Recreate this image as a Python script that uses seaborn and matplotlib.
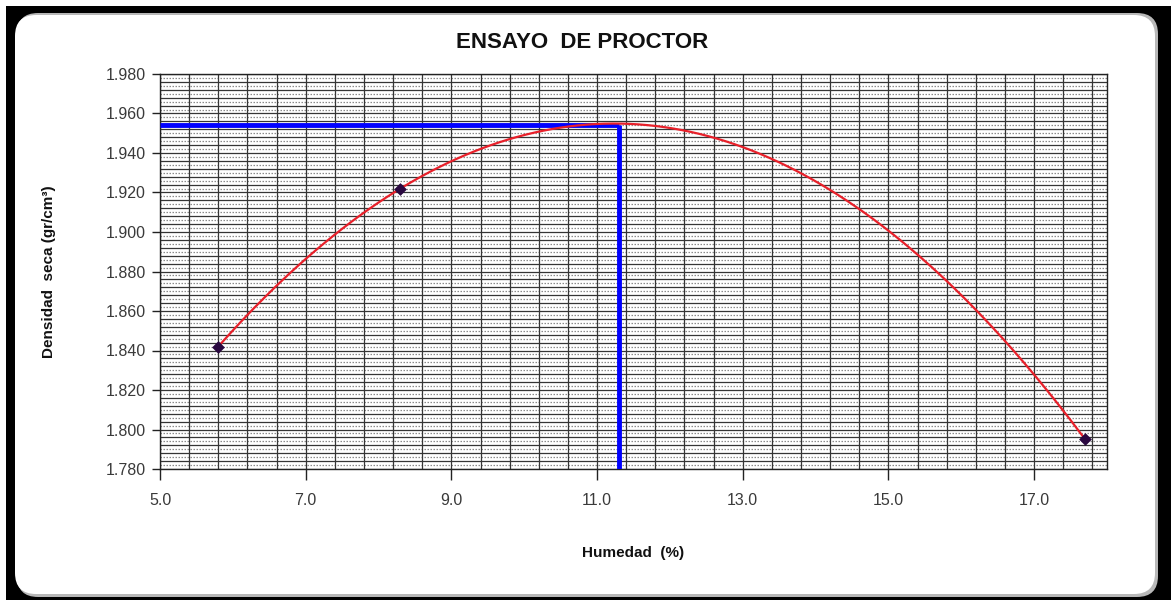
import numpy as np
import pandas as pd
import matplotlib
matplotlib.use("Agg")
import matplotlib.pyplot as plt
from matplotlib.patches import FancyBboxPatch, Rectangle
from matplotlib.ticker import FixedLocator, FormatStrFormatter
import seaborn as sns

# Ensayo de compactación Proctor: humedad (%) vs densidad seca (gr/cm3)
humedad = [5.8, 8.3, 17.7]
densidad_seca = [1.842, 1.922, 1.795]

# Humedad óptima y densidad seca máxima
humedad_optima = 11.3
densidad_maxima = 1.954

titulo = "ENSAYO  DE PROCTOR"
etiqueta_x = "Humedad  (%)"
etiqueta_y = "Densidad  seca (gr/cm³)"

sns.set_theme(style="white")
plt.rcParams["font.family"] = ["Liberation Sans", "DejaVu Sans"]

W, H = 1171, 600
fig = plt.figure(figsize=(W / 100, H / 100), dpi=100)
fig.patch.set_facecolor("white")

# Marco negro y panel blanco con esquinas redondeadas
fig.patches.append(Rectangle((6 / W, 0), 1 - 6 / W, 1 - 6 / H,
                             transform=fig.transFigure, facecolor="black",
                             edgecolor="none", zorder=-10))
fig.patches.append(FancyBboxPatch((17 / W, 3 / H), (1158 - 17) / W, (585 - 1) / H,
                                  boxstyle="round,pad=0,rounding_size=0.018",
                                  transform=fig.transFigure, facecolor="#b8b8b8",
                                  edgecolor="none", zorder=-9,
                                  mutation_aspect=W / H))
fig.patches.append(FancyBboxPatch((15 / W, 6 / H), (1155 - 15) / W, (585 - 6) / H,
                                  boxstyle="round,pad=0,rounding_size=0.018",
                                  transform=fig.transFigure, facecolor="white",
                                  edgecolor="none", zorder=-8,
                                  mutation_aspect=W / H))

ax = fig.add_axes([160 / W, 1 - 469 / H, (1107 - 160) / W, (469 - 74) / H])
ax.set_facecolor("white")

# Curva de ajuste cuadrática
coef = np.polyfit(humedad, densidad_seca, 2)
xs = np.linspace(min(humedad), max(humedad), 300)
curva = pd.DataFrame({"x": xs, "y": np.polyval(coef, xs)})
puntos = pd.DataFrame({"x": humedad, "y": densidad_seca})

xmin, xmax = 5.0, 18.0
ymin, ymax = 1.780, 1.980

# Líneas de humedad óptima y densidad máxima
ax.plot([xmin, humedad_optima], [densidad_maxima, densidad_maxima],
        color="#0000ff", lw=3.5, solid_capstyle="butt", zorder=4)
ax.plot([humedad_optima, humedad_optima], [ymin, densidad_maxima],
        color="#0000ff", lw=3.5, solid_capstyle="butt", zorder=4)

sns.lineplot(data=curva, x="x", y="y", ax=ax, color="#e8202a", lw=1.6,
             zorder=5, legend=False)
sns.scatterplot(data=puntos, x="x", y="y", ax=ax, marker="D", s=36,
                color="#2a0840", edgecolor="#2a0840", zorder=6, legend=False)

ax.set_xlim(xmin, xmax)
ax.set_ylim(ymin, ymax)

# Rejilla
ax.xaxis.set_major_locator(FixedLocator(np.arange(5.0, 17.01, 2.0)))
ax.xaxis.set_minor_locator(FixedLocator(np.arange(5.0, 18.01, 0.4)))
ax.yaxis.set_major_locator(FixedLocator(np.arange(1.780, 1.9801, 0.020)))
ax.yaxis.set_minor_locator(FixedLocator(np.arange(1.780, 1.9801, 0.004)))
ax.xaxis.set_major_formatter(FormatStrFormatter("%.1f"))
ax.yaxis.set_major_formatter(FormatStrFormatter("%.3f"))

ax.grid(True, which="both", axis="both", color="#353535", lw=0.9, zorder=0)
ax.set_axisbelow(True)
ax.hlines(np.arange(1.782, 1.980, 0.004), 0, 1, transform=ax.get_yaxis_transform(),
          colors="#8c8c8c", lw=0.9, linestyles=(0, (1.2, 1.2)), zorder=0.5)

for s in ax.spines.values():
    s.set_color("#222222")
    s.set_linewidth(1.0)

ax.tick_params(axis="both", which="major", direction="out", length=6, width=1,
               color="#222222", labelsize=11.5, labelcolor="#3a3a3a", pad=4,
               left=True, bottom=True)
ax.tick_params(axis="x", which="major", length=8, pad=9)
ax.tick_params(axis="both", which="minor", length=0)

ax.set_xlabel(etiqueta_x, fontsize=11, fontweight="bold", color="#111111", labelpad=28)
ax.set_ylabel(etiqueta_y, fontsize=11, fontweight="bold", color="#111111", labelpad=36)
fig.text(582 / W, 1 - 42 / H, titulo, fontsize=16, fontweight="bold",
         color="#111111", ha="center", va="center")

fig.savefig("out.png", dpi=100, facecolor=fig.get_facecolor())
